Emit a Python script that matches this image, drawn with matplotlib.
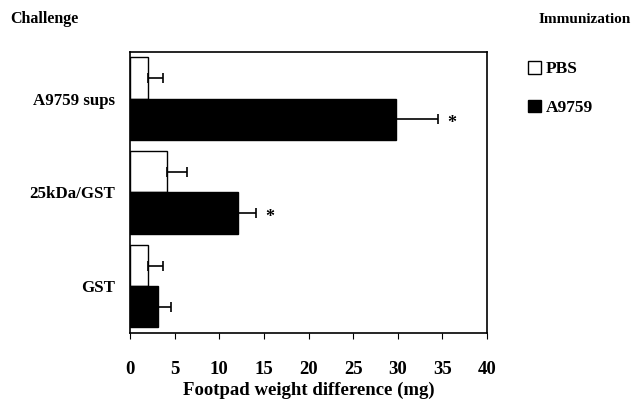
import numpy as np
import matplotlib
matplotlib.use('Agg')
import matplotlib.pyplot as plt

# Data
challenges = ['A9759 sups', '25kDa/GST', 'GST']
pbs_vals = [2.05, 4.2, 2.05]
pbs_err = [1.6, 2.2, 1.6]
a9759_vals = [29.8, 12.1, 3.1]
a9759_err = [4.7, 2.0, 1.5]
a9759_signif = [True, True, False]
xticks = [0, 5, 10, 15, 20, 25, 30, 35, 40]

plt.rcParams['font.family'] = ['Liberation Serif', 'DejaVu Serif']
plt.rcParams['font.weight'] = 'bold'

fig = plt.figure(figsize=(6.31, 4.0), dpi=100)
ax = fig.add_axes([0.206, 0.1675, 0.566, 0.703])

y = np.arange(len(challenges))
h = 0.44

ax.barh(y - h / 2, pbs_vals, height=h, color='white', edgecolor='black', linewidth=1.0, label='PBS')
ax.barh(y + h / 2, a9759_vals, height=h, color='black', edgecolor='black', linewidth=1.0, label='A9759')
ax.errorbar(pbs_vals, y - h / 2, xerr=[np.zeros(len(y)), pbs_err], fmt='none',
            ecolor='black', elinewidth=1.2, capsize=3.5, capthick=1.2)
ax.errorbar(a9759_vals, y + h / 2, xerr=[np.zeros(len(y)), a9759_err], fmt='none',
            ecolor='black', elinewidth=1.2, capsize=3.5, capthick=1.2)

for i, s in enumerate(a9759_signif):
    if s:
        ax.text(a9759_vals[i] + a9759_err[i] + 1.5, y[i] + h / 2 + 0.05, '*', ha='center', va='center',
                fontsize=13, fontweight='bold')

ax.set_xlim(0, 40)
ax.set_ylim(len(challenges) - 0.5, -0.5)
ax.set_xticks(xticks)
ax.set_yticks(y)
ax.set_yticklabels(challenges, fontsize=12.2, fontweight='bold')
ax.tick_params(axis='y', length=0, pad=11)
ax.tick_params(axis='x', direction='out', length=4, width=0.8, pad=16.5, labelsize=13.5)
for lab in ax.get_xticklabels():
    lab.set_fontweight('bold')
for sp in ax.spines.values():
    sp.set_linewidth(1.2)
ax.set_xlabel('Footpad weight difference (mg)', fontsize=13.5, fontweight='bold')
ax.xaxis.set_label_coords(0.5, -0.172)

fig.text(0.016, 0.952, 'Challenge', fontsize=11.5, fontweight='bold', ha='left', va='center')
fig.text(0.999, 0.952, 'Immunization', fontsize=11, fontweight='bold', ha='right', va='center')

ax.legend(loc='upper left', bbox_to_anchor=(0.836, 0.848), bbox_transform=fig.transFigure,
          frameon=False, handlelength=0.75, handleheight=0.75, handletextpad=0.3,
          labelspacing=1.3, borderaxespad=0, borderpad=0, prop={'weight': 'bold', 'size': 12.5})

fig.savefig('out.png', dpi=100)
